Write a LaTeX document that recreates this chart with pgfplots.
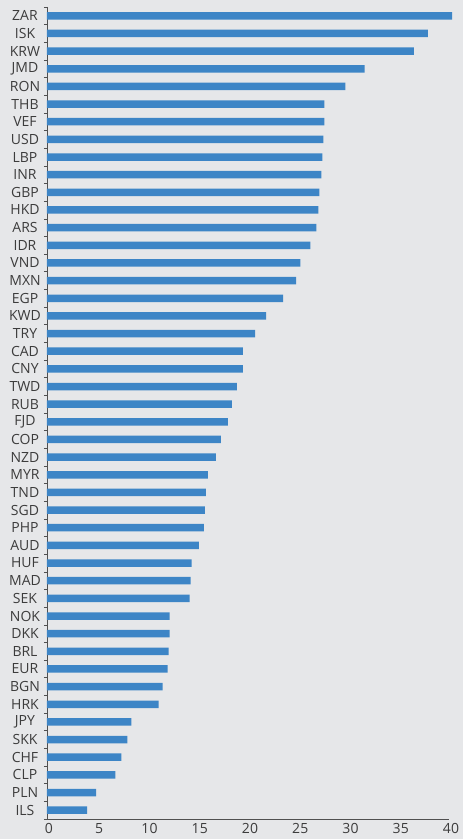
\documentclass[border=0pt]{standalone}
\usepackage{fontspec}
\setmainfont{Open Sans}
\usepackage{pgfplots}
\pgfplotsset{compat=1.18}
\usepackage{pgfplotstable}
\usetikzlibrary{backgrounds}
\definecolor{bg}{HTML}{E6E7E9}
\definecolor{barblue}{HTML}{3D85C6}
\definecolor{txt}{HTML}{3C3C3C}
\definecolor{axisc}{HTML}{505050}
\pgfplotstableread{
idx val
0 40.3
1 37.9
2 36.5
3 31.6
4 29.7
5 27.6
6 27.6
7 27.5
8 27.4
9 27.3
10 27.1
11 27.0
12 26.8
13 26.2
14 25.2
15 24.8
16 23.5
17 21.8
18 20.7
19 19.5
20 19.5
21 18.9
22 18.4
23 18.0
24 17.3
25 16.8
26 16.0
27 15.8
28 15.7
29 15.6
30 15.1
31 14.4
32 14.3
33 14.2
34 12.2
35 12.2
36 12.1
37 12.0
38 11.5
39 11.1
40 8.4
41 8.0
42 7.4
43 6.8
44 4.9
45 4.0
}\datatable
\begin{document}
\begin{tikzpicture}
\begin{axis}[
  name=ax,
  scale only axis,
  width=402pt, height=812pt,
  xbar, bar width=7.5pt,
  xmin=0, xmax=40,
  ymin=-0.5, ymax=45.5,
  y dir=reverse,
  clip=false,
  axis x line*=bottom,
  axis y line*=left,
  axis line style={axisc, line width=0.8pt},
  xtick={0,5,...,40},
  ytick={0,...,45},
  yticklabels={ZAR,ISK,KRW,JMD,RON,THB,VEF,USD,LBP,INR,GBP,HKD,ARS,IDR,VND,MXN,EGP,KWD,TRY,CAD,CNY,TWD,RUB,FJD,COP,NZD,MYR,TND,SGD,PHP,AUD,HUF,MAD,SEK,NOK,DKK,BRL,EUR,BGN,HRK,JPY,SKK,CHF,CLP,PLN,ILS},
  minor ytick={-0.5,0.5,...,45.5},
  major tick length=0pt,
  minor tick length=3pt,
  tick align=outside,
  minor tick style={axisc, line width=0.6pt},
  tick label style={font=\fontsize{14}{16}\selectfont, text=txt},
  /pgf/number format/assume math mode=true,
  yticklabel style={anchor=center, xshift=-22pt},
  xticklabel style={yshift=-1pt, xshift=2pt},
]
\addplot[fill=barblue, draw=none] table[x=val, y=idx] {\datatable};
\end{axis}
\begin{scope}[on background layer]
\fill[bg] ([xshift=-47pt,yshift=-20pt]ax.south west) rectangle ([xshift=14pt,yshift=7pt]ax.north east);
\end{scope}
\end{tikzpicture}
\end{document}
